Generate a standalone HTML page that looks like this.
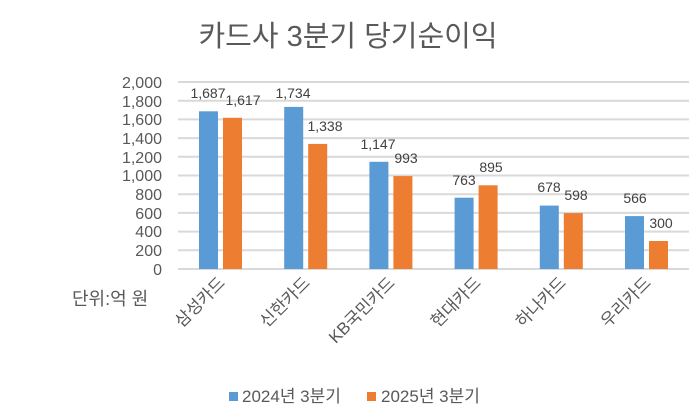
<!DOCTYPE html>
<html><head><meta charset="utf-8"><style>
html,body{margin:0;padding:0;background:#fff;width:696px;height:418px;overflow:hidden}
text{font-family:"Liberation Sans","Noto Sans CJK KR",sans-serif}
</style></head><body>
<svg width="696" height="418" xmlns="http://www.w3.org/2000/svg">
<rect width="696" height="418" fill="#fff"/>
<text x="348" y="46" text-anchor="middle" font-size="29" fill="#595959">카드사 3분기 당기순이익</text>
<g stroke="#d9d9d9" stroke-width="2">
<line x1="178" x2="689" y1="269" y2="269"/><line x1="178" x2="689" y1="250.3" y2="250.3"/>
<line x1="178" x2="689" y1="231.6" y2="231.6"/><line x1="178" x2="689" y1="212.9" y2="212.9"/>
<line x1="178" x2="689" y1="194.2" y2="194.2"/><line x1="178" x2="689" y1="175.5" y2="175.5"/>
<line x1="178" x2="689" y1="156.8" y2="156.8"/><line x1="178" x2="689" y1="138.1" y2="138.1"/>
<line x1="178" x2="689" y1="119.4" y2="119.4"/><line x1="178" x2="689" y1="100.7" y2="100.7"/>
<line x1="178" x2="689" y1="82" y2="82"/>
</g>
<g font-size="16" fill="#595959" text-anchor="end">
<text x="162" y="275">0</text><text x="162" y="256">200</text><text x="162" y="237">400</text>
<text x="162" y="219">600</text><text x="162" y="200">800</text><text x="162" y="181">1,000</text>
<text x="162" y="163">1,200</text><text x="162" y="144">1,400</text><text x="162" y="125">1,600</text>
<text x="162" y="107">1,800</text><text x="162" y="88">2,000</text>
</g>
<g fill="#5b9bd5">
<rect x="199" y="111.3" width="19" height="157.7"/>
<rect x="284.2" y="106.9" width="19" height="162.1"/>
<rect x="369.4" y="161.8" width="19" height="107.2"/>
<rect x="454.6" y="197.7" width="19" height="71.3"/>
<rect x="539.8" y="205.6" width="19" height="63.4"/>
<rect x="625" y="216.1" width="19" height="52.9"/>
</g>
<g fill="#ed7d31">
<rect x="223" y="117.8" width="19" height="151.2"/>
<rect x="308.2" y="143.9" width="19" height="125.1"/>
<rect x="393.4" y="176.1" width="19" height="92.9"/>
<rect x="478.6" y="185.3" width="19" height="83.7"/>
<rect x="563.8" y="213.1" width="19" height="55.9"/>
<rect x="649" y="241" width="19" height="28"/>
</g>
<g font-size="14" fill="#404040" text-anchor="middle">
<text x="208" y="98">1,687</text><text x="243" y="105">1,617</text>
<text x="293" y="98">1,734</text><text x="325" y="131">1,338</text>
<text x="378" y="149">1,147</text><text x="406" y="163">993</text>
<text x="464" y="185">763</text><text x="491" y="172">895</text>
<text x="549" y="192">678</text><text x="576" y="200">598</text>
<text x="635" y="203">566</text><text x="661" y="228">300</text>
</g>
<g font-size="17" fill="#595959" text-anchor="end">
<text transform="translate(226,284) rotate(-45)">삼성카드</text>
<text transform="translate(311,284) rotate(-45)">신한카드</text>
<text transform="translate(396,284) rotate(-45)">KB국민카드</text>
<text transform="translate(482,284) rotate(-45)">현대카드</text>
<text transform="translate(567,284) rotate(-45)">하나카드</text>
<text transform="translate(652,284) rotate(-45)">우리카드</text>
</g>
<text x="72" y="305" font-size="18" fill="#595959">단위:억 원</text>
<rect x="229" y="392" width="9" height="9" fill="#5b9bd5"/>
<text x="242" y="402" font-size="17" fill="#595959">2024년 3분기</text>
<rect x="367" y="392" width="9" height="9" fill="#ed7d31"/>
<text x="381" y="402" font-size="17" fill="#595959">2025년 3분기</text>
</svg>
</body></html>
